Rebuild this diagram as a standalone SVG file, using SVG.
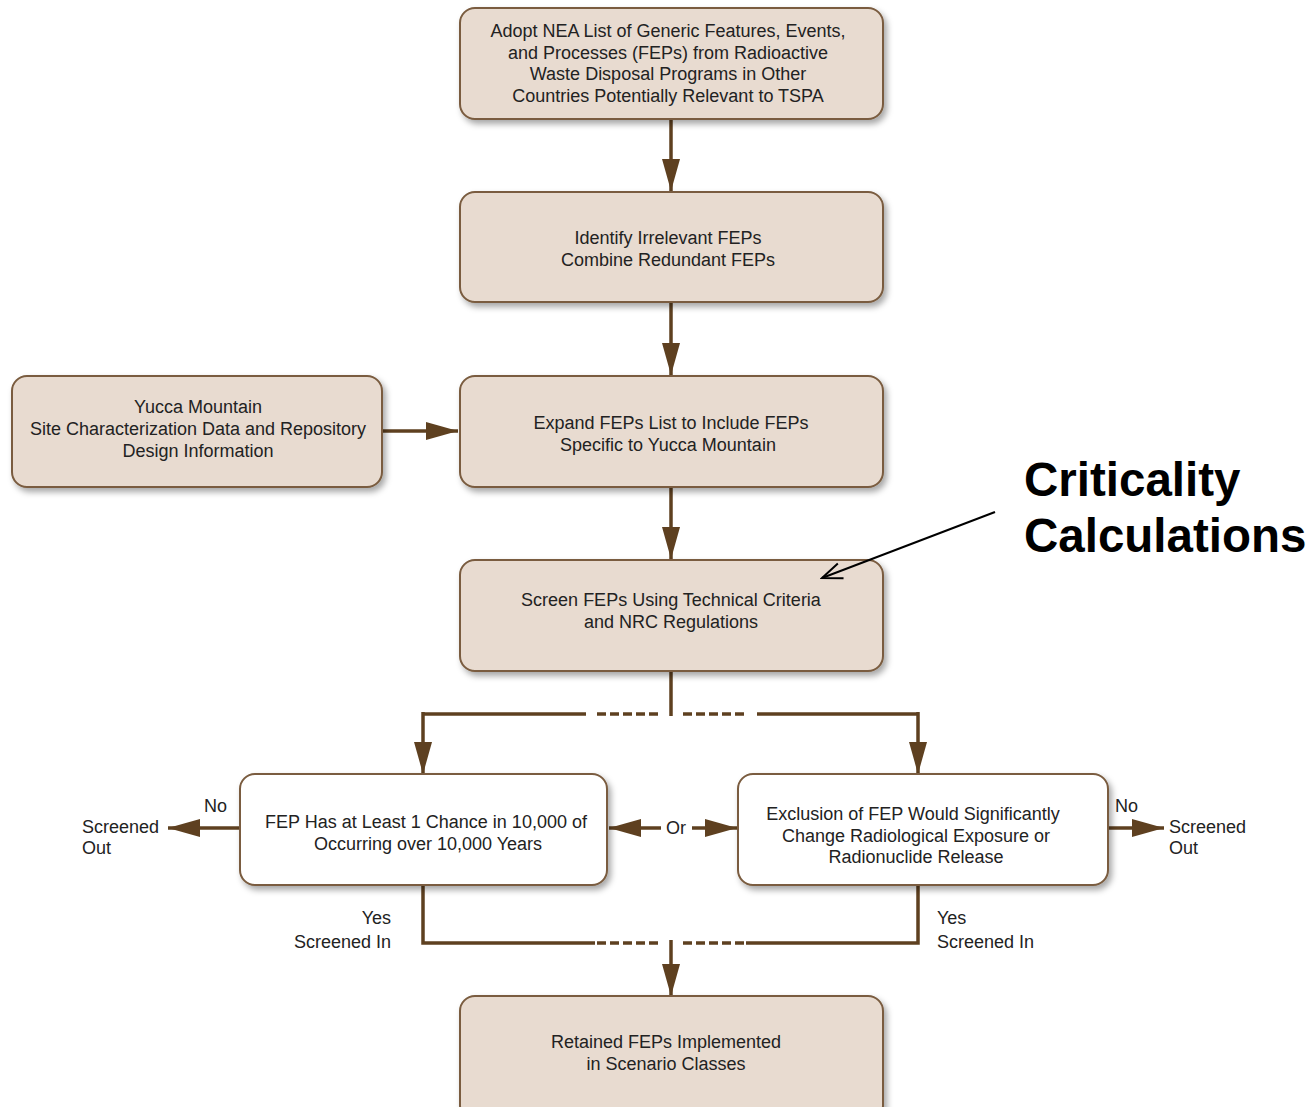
<svg xmlns="http://www.w3.org/2000/svg" width="1312" height="1107" viewBox="0 0 1312 1107">
<defs>
<filter id="sh" x="-10%" y="-20%" width="125%" height="150%">
<feDropShadow dx="3" dy="4" stdDeviation="3" flood-color="#000" flood-opacity="0.35"/>
</filter>
<marker id="ah" markerUnits="userSpaceOnUse" markerWidth="34" markerHeight="20" refX="32" refY="10" orient="auto">
<path d="M0,1 L32,10 L0,19 Z" fill="#5e4020"/>
</marker>
<marker id="oa" markerUnits="userSpaceOnUse" markerWidth="24" markerHeight="20" refX="22" refY="10" orient="auto">
<path d="M2,2 L22,10 L2,18" fill="none" stroke="#000" stroke-width="2"/>
</marker>
</defs>
<style>
.box{fill:#e8dbd0;stroke:#7a5c3f;stroke-width:2;filter:url(#sh)}
.wbox{fill:#ffffff;stroke:#7a5c3f;stroke-width:2;filter:url(#sh)}
text{font-family:"Liberation Sans",Arial,sans-serif;font-size:18px;fill:#222}
.c{text-anchor:middle}
.r{text-anchor:end}
.ln{stroke:#5e4020;stroke-width:3.5;fill:none}
.ar{stroke:#5e4020;stroke-width:3.5;fill:none;marker-end:url(#ah)}
.ds{stroke:#5e4020;stroke-width:3.5;fill:none;stroke-dasharray:9,4}
.big{font-size:47.5px;font-weight:bold;fill:#000}
</style>
<rect width="1312" height="1107" fill="#ffffff"/>

<g id="connectors">
<line class="ar" x1="671" y1="120" x2="671" y2="191"/>
<line class="ar" x1="671" y1="303" x2="671" y2="375"/>
<line class="ar" x1="383" y1="431" x2="458" y2="431"/>
<line class="ar" x1="671" y1="488" x2="671" y2="559"/>
<line class="ln" x1="671" y1="672" x2="671" y2="716"/>
<polyline class="ln" points="586,714 423,714"/>
<line class="ar" x1="423" y1="712" x2="423" y2="774"/>
<line class="ds" x1="597" y1="714" x2="660" y2="714"/>
<line class="ds" x1="683" y1="714" x2="746" y2="714"/>
<polyline class="ln" points="757,714 918,714"/>
<line class="ar" x1="918" y1="712" x2="918" y2="774"/>
<line class="ar" x1="240" y1="828" x2="168" y2="828"/>
<line class="ar" x1="1109" y1="828" x2="1164" y2="828"/>
<line class="ar" x1="661" y1="828" x2="609" y2="828"/>
<line class="ar" x1="692" y1="828" x2="737" y2="828"/>
<polyline class="ln" points="423,886 423,943 595,943"/>
<line class="ds" x1="597" y1="943" x2="660" y2="943"/>
<line class="ds" x1="683" y1="943" x2="746" y2="943"/>
<polyline class="ln" points="918,886 918,943 746,943"/>
<line class="ar" x1="671" y1="940" x2="671" y2="996"/>
</g>

<g id="n-adopt">
<rect class="box" x="460" y="8" width="423" height="111" rx="15"/>
<text class="c" x="668" y="37">Adopt NEA List of Generic Features, Events,</text>
<text class="c" x="668" y="59">and Processes (FEPs) from Radioactive</text>
<text class="c" x="668" y="80">Waste Disposal Programs in Other</text>
<text class="c" x="668" y="102">Countries Potentially Relevant to TSPA</text>
</g>
<g id="n-identify">
<rect class="box" x="460" y="192" width="423" height="110" rx="15"/>
<text class="c" x="668" y="244">Identify Irrelevant FEPs</text>
<text class="c" x="668" y="266">Combine Redundant FEPs</text>
</g>
<g id="n-yucca">
<rect class="box" x="12" y="376" width="370" height="111" rx="15"/>
<text class="c" x="198" y="413">Yucca Mountain</text>
<text class="c" x="198" y="435">Site Characterization Data and Repository</text>
<text class="c" x="198" y="457">Design Information</text>
</g>
<g id="n-expand">
<rect class="box" x="460" y="376" width="423" height="111" rx="15"/>
<text class="c" x="671" y="429">Expand FEPs List to Include FEPs</text>
<text class="c" x="668" y="451">Specific to Yucca Mountain</text>
</g>
<g id="n-screen">
<rect class="box" x="460" y="560" width="423" height="111" rx="15"/>
<text class="c" x="671" y="606">Screen FEPs Using Technical Criteria</text>
<text class="c" x="671" y="628">and NRC Regulations</text>
</g>
<g id="n-chance">
<rect class="wbox" x="240" y="774" width="367" height="111" rx="15"/>
<text class="c" x="426" y="828">FEP Has at Least 1 Chance in 10,000 of</text>
<text class="c" x="428" y="850">Occurring over 10,000 Years</text>
</g>
<g id="n-exclusion">
<rect class="wbox" x="738" y="774" width="370" height="111" rx="15"/>
<text class="c" x="913" y="820">Exclusion of FEP Would Significantly</text>
<text class="c" x="916" y="842">Change Radiological Exposure or</text>
<text class="c" x="916" y="863">Radionuclide Release</text>
</g>
<g id="n-retained">
<rect class="box" x="460" y="996" width="423" height="125" rx="15"/>
<text class="c" x="666" y="1048">Retained FEPs Implemented</text>
<text class="c" x="666" y="1070">in Scenario Classes</text>
</g>

<g id="labels">
<text x="204" y="812">No</text>
<text x="82" y="833">Screened</text>
<text x="82" y="854">Out</text>
<text x="1115" y="812">No</text>
<text x="1169" y="833">Screened</text>
<text x="1169" y="854">Out</text>
<text class="c" x="676" y="834">Or</text>
<text class="r" x="391" y="924">Yes</text>
<text class="r" x="391" y="948">Screened In</text>
<text x="937" y="924">Yes</text>
<text x="937" y="948">Screened In</text>
</g>

<g id="n-criticality">
<text class="big" x="1024" y="496">Criticality</text>
<text class="big" x="1024" y="552">Calculations</text>
<line x1="995" y1="512" x2="822" y2="578" stroke="#000" stroke-width="2" marker-end="url(#oa)"/>
</g>
</svg>
